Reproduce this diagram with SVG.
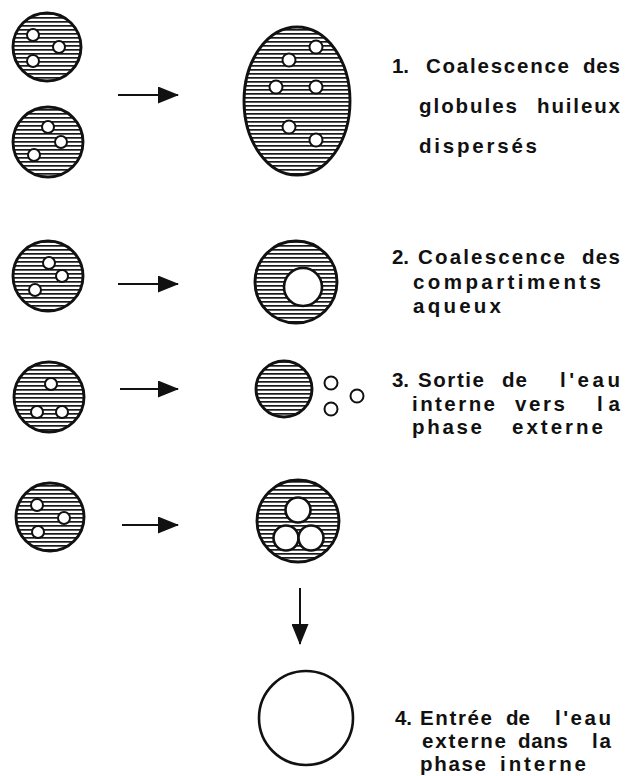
<svg xmlns="http://www.w3.org/2000/svg" width="625" height="776" viewBox="0 0 625 776">
  <defs>
    <pattern id="hatch" patternUnits="userSpaceOnUse" width="8" height="4">
      <rect x="0" y="0" width="8" height="4" fill="#fff"/>
      <rect x="0" y="1" width="8" height="1.7" fill="#1a1a1a"/>
    </pattern>
    <marker id="head" viewBox="0 0 21 17" refX="20" refY="8.5" markerWidth="21" markerHeight="17" markerUnits="userSpaceOnUse" orient="auto">
      <path d="M0,0 L21,8.5 L0,17 z" fill="#111"/>
    </marker>
  </defs>
  <style>
    .drop { fill: url(#hatch); stroke: #111; stroke-width: 2.9; }
    .cell { fill: #fff; stroke: #111; stroke-width: 2; }
    .big { fill: #fff; stroke: #111; stroke-width: 2.6; }
    .arrow { stroke: #111; stroke-width: 2; fill: none; marker-end: url(#head); }
    text { font-family: "Liberation Sans", Arial, sans-serif; font-weight: bold; font-size: 20.5px; fill: #111; }
  </style>

  <!-- connectors -->
  <g id="connectors">
    <line class="arrow" x1="118" y1="95" x2="178" y2="95"/>
    <line class="arrow" x1="118" y1="284" x2="178" y2="284"/>
    <line class="arrow" x1="120" y1="389" x2="178" y2="389"/>
    <line class="arrow" x1="122" y1="525" x2="178" y2="525"/>
    <line class="arrow" x1="300" y1="588" x2="300" y2="644"/>
  </g>

  <!-- row 1: two double emulsion globules merging -->
  <g id="row1-left-top">
    <circle class="drop" cx="47" cy="47" r="34"/>
    <circle class="cell" cx="33" cy="35" r="6"/>
    <circle class="cell" cx="59" cy="47" r="6"/>
    <circle class="cell" cx="33" cy="61" r="6"/>
  </g>
  <g id="row1-left-bottom">
    <circle class="drop" cx="48" cy="142" r="35"/>
    <circle class="cell" cx="48" cy="127" r="6"/>
    <circle class="cell" cx="61" cy="142" r="6"/>
    <circle class="cell" cx="34" cy="155" r="6"/>
  </g>
  <g id="row1-right">
    <ellipse class="drop" cx="297" cy="101" rx="53" ry="74"/>
    <circle class="cell" cx="316" cy="47" r="6.5"/>
    <circle class="cell" cx="289" cy="60" r="6.5"/>
    <circle class="cell" cx="276" cy="87" r="6.5"/>
    <circle class="cell" cx="316" cy="87" r="6.5"/>
    <circle class="cell" cx="289" cy="127" r="6.5"/>
    <circle class="cell" cx="316" cy="140" r="6.5"/>
  </g>
  <g id="label1">
    <text x="392" y="73" textLength="17" lengthAdjust="spacing">1.</text>
    <text x="426" y="73" textLength="143" lengthAdjust="spacing">Coalescence</text>
    <text x="583" y="73" textLength="37" lengthAdjust="spacing">des</text>
    <text x="419" y="113" textLength="98" lengthAdjust="spacing">globules</text>
    <text x="537" y="113" textLength="83" lengthAdjust="spacing">huileux</text>
    <text x="419" y="153" textLength="118" lengthAdjust="spacing">dispersés</text>
  </g>

  <!-- row 2 -->
  <g id="row2-left">
    <circle class="drop" cx="48" cy="276" r="35"/>
    <circle class="cell" cx="49" cy="263" r="6"/>
    <circle class="cell" cx="62" cy="276" r="6"/>
    <circle class="cell" cx="35" cy="290" r="6"/>
  </g>
  <g id="row2-right">
    <circle class="drop" cx="296" cy="282" r="41"/>
    <circle class="big" cx="303" cy="287" r="19"/>
  </g>
  <g id="label2">
    <text x="392" y="264" textLength="17" lengthAdjust="spacing">2.</text>
    <text x="418" y="264" textLength="147" lengthAdjust="spacing">Coalescence</text>
    <text x="582" y="264" textLength="38" lengthAdjust="spacing">des</text>
    <text x="413" y="289" textLength="188" lengthAdjust="spacing">compartiments</text>
    <text x="413" y="313" textLength="88" lengthAdjust="spacing">aqueux</text>
  </g>

  <!-- row 3 -->
  <g id="row3-left">
    <circle class="drop" cx="49" cy="397" r="35"/>
    <circle class="cell" cx="51" cy="384" r="6"/>
    <circle class="cell" cx="37" cy="412" r="6"/>
    <circle class="cell" cx="62" cy="412" r="6"/>
  </g>
  <g id="row3-right">
    <circle class="drop" cx="284" cy="389" r="28"/>
    <circle class="cell" cx="331" cy="383" r="6.5"/>
    <circle class="cell" cx="357" cy="396" r="6.5"/>
    <circle class="cell" cx="331" cy="409" r="6.5"/>
  </g>
  <g id="label3">
    <text x="392" y="387" textLength="17" lengthAdjust="spacing">3.</text>
    <text x="418" y="387" textLength="66" lengthAdjust="spacing">Sortie</text>
    <text x="502" y="387" textLength="25" lengthAdjust="spacing">de</text>
    <text x="560" y="387" textLength="60" lengthAdjust="spacing">l'eau</text>
    <text x="412" y="411" textLength="83" lengthAdjust="spacing">interne</text>
    <text x="515" y="411" textLength="50" lengthAdjust="spacing">vers</text>
    <text x="597" y="411" textLength="23" lengthAdjust="spacing">la</text>
    <text x="412" y="434" textLength="70" lengthAdjust="spacing">phase</text>
    <text x="512" y="434" textLength="91" lengthAdjust="spacing">externe</text>
  </g>

  <!-- row 4 -->
  <g id="row4-left">
    <circle class="drop" cx="50" cy="517" r="34"/>
    <circle class="cell" cx="37" cy="505" r="6"/>
    <circle class="cell" cx="64" cy="518" r="6"/>
    <circle class="cell" cx="38" cy="532" r="6"/>
  </g>
  <g id="row4-right">
    <circle class="drop" cx="298" cy="521" r="41"/>
    <circle class="big" cx="298" cy="510" r="12.5"/>
    <circle class="big" cx="286" cy="538" r="12.5"/>
    <circle class="big" cx="311" cy="538" r="12.5"/>
  </g>
  <g id="row4-result">
    <circle class="big" cx="306" cy="718" r="47"/>
  </g>
  <g id="label4">
    <text x="395" y="725" textLength="17" lengthAdjust="spacing">4.</text>
    <text x="420" y="725" textLength="72" lengthAdjust="spacing">Entrée</text>
    <text x="506" y="725" textLength="24" lengthAdjust="spacing">de</text>
    <text x="555" y="725" textLength="56" lengthAdjust="spacing">l'eau</text>
    <text x="422" y="748" textLength="84" lengthAdjust="spacing">externe</text>
    <text x="518" y="748" textLength="50" lengthAdjust="spacing">dans</text>
    <text x="592" y="748" textLength="19" lengthAdjust="spacing">la</text>
    <text x="420" y="771" textLength="66" lengthAdjust="spacing">phase</text>
    <text x="500" y="771" textLength="86" lengthAdjust="spacing">interne</text>
  </g>
</svg>
